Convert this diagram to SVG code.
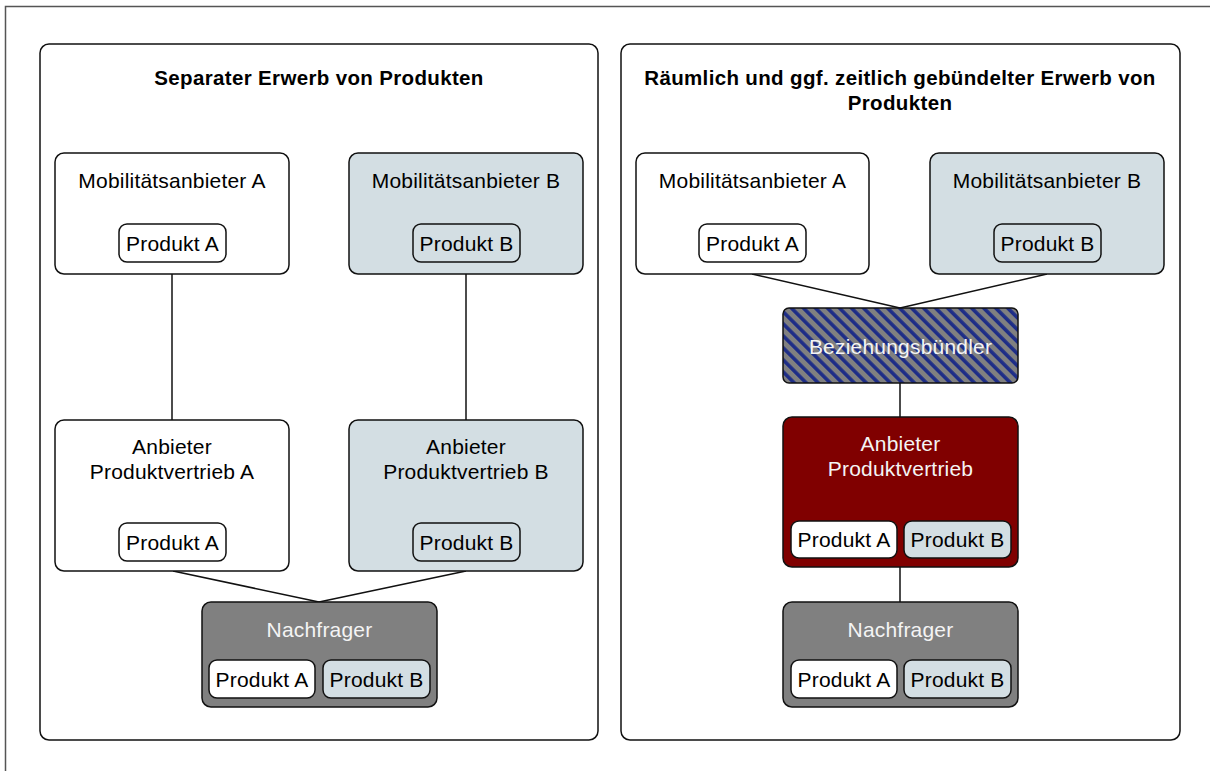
<svg xmlns="http://www.w3.org/2000/svg" width="1210" height="771" viewBox="0 0 1210 771">
<defs>
<pattern id="hatch" patternUnits="userSpaceOnUse" width="8.5" height="8.5" patternTransform="rotate(-45)">
<rect width="8.5" height="8.5" fill="#808080"/>
<rect width="3.6" height="8.5" fill="#1e2d87"/>
</pattern>
</defs>
<style>
text{font-family:"Liberation Sans",Arial,sans-serif;font-size:21px;letter-spacing:0.2px;text-anchor:middle}
.title{font-weight:bold;font-size:20.5px;letter-spacing:0.35px}
.panel{fill:#fff;stroke:#111;stroke-width:1.5}
.box{stroke:#111;stroke-width:1.5}
.white{fill:#fff}
.blue{fill:#d3dee3}
.gray{fill:#808080}
.red{fill:#800000}
.wt{fill:#f4f4f4}
.pill{stroke:#111;stroke-width:1.5}
.conn line{stroke:#111;stroke-width:1.5}
</style>
<rect x="5.5" y="6.5" width="1300" height="900" fill="#fff" stroke="#555" stroke-width="1.5"/>
<rect class="panel" x="40" y="44" width="558" height="696" rx="9"/>
<rect class="panel" x="621" y="44" width="559" height="696" rx="9"/>
<text class="title" x="319" y="85">Separater Erwerb von Produkten</text>
<text class="title" x="900" y="85">Räumlich und ggf. zeitlich gebündelter Erwerb von</text>
<text class="title" x="900" y="110">Produkten</text>
<g class="conn">
<line x1="172" y1="274" x2="172" y2="420"/>
<line x1="466" y1="274" x2="466" y2="420"/>
<line x1="173" y1="571" x2="319" y2="602"/>
<line x1="466" y1="571" x2="319" y2="602"/>
<line x1="752" y1="274" x2="900" y2="308"/>
<line x1="1047" y1="274" x2="900" y2="308"/>
<line x1="900" y1="383" x2="900" y2="417"/>
<line x1="900" y1="567" x2="900" y2="602"/>
</g>
<g id="l-mobA">
<rect class="box white" x="55" y="153" width="234" height="121" rx="9"/>
<text x="172" y="188">Mobilitätsanbieter A</text>
<rect class="pill white" x="119" y="224" width="107" height="38" rx="8"/>
<text x="172.5" y="251">Produkt A</text>
</g>
<g id="l-mobB">
<rect class="box blue" x="349" y="153" width="234" height="121" rx="9"/>
<text x="466" y="188">Mobilitätsanbieter B</text>
<rect class="pill blue" x="413" y="224" width="107" height="38" rx="8"/>
<text x="466.5" y="251">Produkt B</text>
</g>
<g id="l-vertA">
<rect class="box white" x="55" y="420" width="234" height="151" rx="9"/>
<text x="172" y="454">Anbieter</text>
<text x="172" y="479">Produktvertrieb A</text>
<rect class="pill white" x="119" y="523" width="107" height="38" rx="8"/>
<text x="172.5" y="550">Produkt A</text>
</g>
<g id="l-vertB">
<rect class="box blue" x="349" y="420" width="234" height="151" rx="9"/>
<text x="466" y="454">Anbieter</text>
<text x="466" y="479">Produktvertrieb B</text>
<rect class="pill blue" x="413" y="523" width="107" height="38" rx="8"/>
<text x="466.5" y="550">Produkt B</text>
</g>
<g id="l-nach">
<rect class="box gray" x="202" y="602" width="235" height="105" rx="9"/>
<text class="wt" x="319.5" y="637">Nachfrager</text>
<rect class="pill white" x="209" y="660" width="106" height="38" rx="8"/>
<text x="262" y="687">Produkt A</text>
<rect class="pill blue" x="323" y="660" width="107" height="38" rx="8"/>
<text x="376.5" y="687">Produkt B</text>
</g>
<g id="r-mobA">
<rect class="box white" x="636" y="153" width="233" height="121" rx="9"/>
<text x="752.5" y="188">Mobilitätsanbieter A</text>
<rect class="pill white" x="699" y="224" width="107" height="38" rx="8"/>
<text x="752.5" y="251">Produkt A</text>
</g>
<g id="r-mobB">
<rect class="box blue" x="930" y="153" width="234" height="121" rx="9"/>
<text x="1047" y="188">Mobilitätsanbieter B</text>
<rect class="pill blue" x="994" y="224" width="107" height="38" rx="8"/>
<text x="1047.5" y="251">Produkt B</text>
</g>
<g id="r-bund">
<rect class="box" fill="url(#hatch)" x="783" y="308" width="235" height="75" rx="6"/>
<text class="wt" x="900.5" y="354">Beziehungsbündler</text>
</g>
<g id="r-vert">
<rect class="box red" x="783" y="417" width="235" height="150" rx="9"/>
<text class="wt" x="900.5" y="451">Anbieter</text>
<text class="wt" x="900.5" y="476">Produktvertrieb</text>
<rect class="pill white" x="791" y="521" width="106" height="37" rx="8"/>
<text x="844" y="547">Produkt A</text>
<rect class="pill blue" x="904" y="521" width="107" height="37" rx="8"/>
<text x="957.5" y="547">Produkt B</text>
</g>
<g id="r-nach">
<rect class="box gray" x="783" y="602" width="235" height="105" rx="9"/>
<text class="wt" x="900.5" y="637">Nachfrager</text>
<rect class="pill white" x="791" y="660" width="106" height="38" rx="8"/>
<text x="844" y="687">Produkt A</text>
<rect class="pill blue" x="904" y="660" width="107" height="38" rx="8"/>
<text x="957.5" y="687">Produkt B</text>
</g>
</svg>
